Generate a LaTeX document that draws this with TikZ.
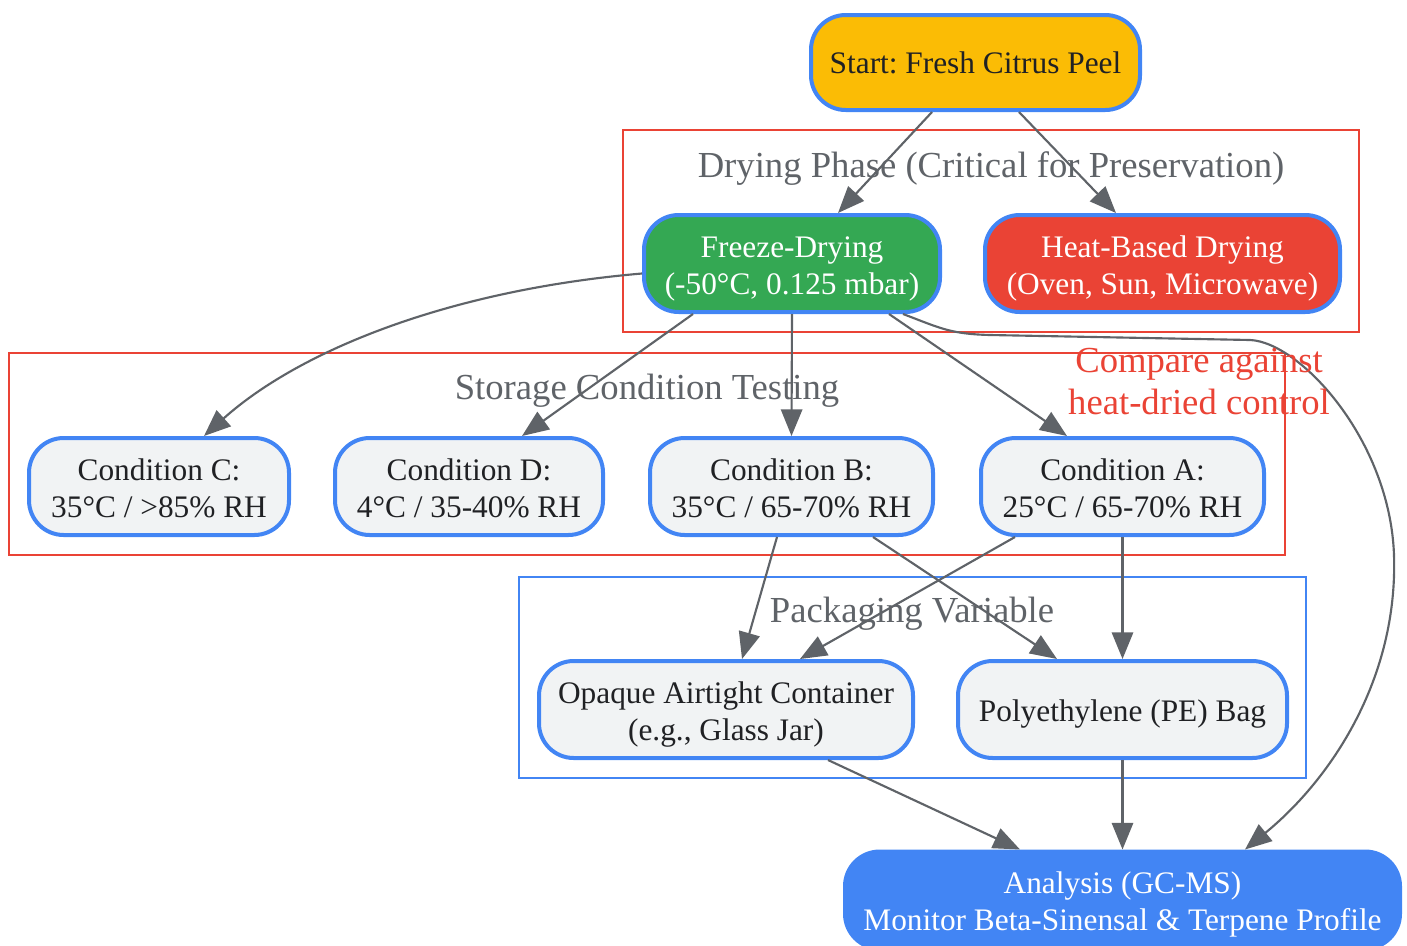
\documentclass[tikz,border=0pt]{standalone}
\usepackage{fontspec}
\setmainfont{Liberation Serif}
\usetikzlibrary{arrows.meta,calc}
\definecolor{gblue}{HTML}{4285F4}
\definecolor{gred}{HTML}{EA4335}
\definecolor{ggreen}{HTML}{34A853}
\definecolor{gyellow}{HTML}{FBBC05}
\definecolor{ggray}{HTML}{5F6368}
\definecolor{glight}{HTML}{F1F3F4}
\definecolor{gdark}{HTML}{202124}
\newcommand{\tallstrut}[1]{\rule{0pt}{#1pt}}
\frenchspacing
\begin{document}
\begin{tikzpicture}[x=0.75pt,y=-0.75pt,
  every node/.style={font=\fontsize{23.5}{27.75}\selectfont},
  box/.style={draw=gblue,line width=3pt,rounded corners=26pt,align=center,minimum height=72.75pt,inner sep=0pt},
  lightbox/.style={box,fill=glight,text=gdark},
  cluster/.style={line width=1.5pt},
  clabel/.style={text=ggray,inner sep=0pt,font=\fontsize{27.5}{31.5}\selectfont},
  edge/.style={draw=ggray,line width=1.6pt,-{Triangle[length=20pt,width=16pt]}}]
\useasboundingbox (0,0) rectangle (1407,946);
% clusters
\draw[cluster,draw=gred] (623,130) rectangle (1359,332);
\node[clabel] (lbldry) at (991,169) {Drying Phase (Critical for Preservation)};
\draw[cluster,draw=gred] (9,353) rectangle (1285,555);
\node[clabel] (lblstore) at (647,391) {Storage Condition Testing};
\draw[cluster,draw=gblue] (519,577) rectangle (1306,778);
\node[clabel] (lblpack) at (912,614) {Packaging Variable};
% nodes
\node[box,fill=gyellow,text=gdark,minimum width=246.75pt,minimum height=71.25pt] (start) at (975.5,62.5) {Start: Fresh Citrus Peel};
\node[box,fill=ggreen,text=white,minimum width=222pt] (freeze) at (792,263.5) {\tallstrut{23.5}Freeze-Drying\\(-50°C, 0.125 mbar)};
\node[box,fill=gred,text=white,minimum width=266.25pt] (heat) at (1162.5,263.5) {\tallstrut{23.5}Heat-Based Drying\\(Oven, Sun, Microwave)};
\node[lightbox,minimum width=195pt] (condC) at (159,486.5) {\tallstrut{19.5}Condition C:\\35°C / >85\% RH};
\node[lightbox,minimum width=201pt] (condD) at (469,486.5) {\tallstrut{19.5}Condition D:\\4°C / 35-40\% RH};
\node[lightbox,minimum width=212.25pt] (condB) at (791.5,486.5) {\tallstrut{19.5}Condition B:\\35°C / 65-70\% RH};
\node[lightbox,minimum width=212.25pt] (condA) at (1122.5,486.5) {\tallstrut{19.5}Condition A:\\25°C / 65-70\% RH};
\node[lightbox,minimum width=280.5pt] (opaque) at (726,709.5) {\tallstrut{23.5}Opaque Airtight Container\\(e.g., Glass Jar)};
\node[lightbox,minimum width=246.75pt] (pe) at (1122.5,709.5) {\tallstrut{23.8}Polyethylene (PE) Bag};
\node[box,fill=gblue,draw=gblue,text=white,minimum width=416.25pt] (analysis) at (1122.5,900) {\tallstrut{22.5}Analysis (GC-MS)\\Monitor Beta-Sinensal \& Terpene Profile};
% edges
\draw[edge] ($(start.south)+(-43.5,0)$) -- ($(freeze.north)+(46,0)$);
\draw[edge] ($(start.south)+(43.5,0)$) -- ($(heat.north)+(-46.5,0)$);
\draw[edge] ($(freeze.west)+(0,10)$) .. controls (450,290) and (300,350) .. ($(condC.north)+(45,0)$);
\draw[edge] ($(freeze.south)+(-99,0)$) -- ($(condD.north)+(53,0)$);
\draw[edge] (freeze.south) -- (condB.north);
\draw[edge] ($(freeze.south)+(97,0)$) -- ($(condA.north)+(-55.5,0)$);
\draw[edge] ($(freeze.south)+(111,0)$) .. controls (940,328) and (950,334) .. (990,335) -- (1250,340)
  .. controls (1300,342) and (1390,440) .. (1394,555)
  .. controls (1398,680) and (1330,780) .. ($(analysis.north)+(122.5,0)$);
\node[text=gred,align=center,inner sep=0pt,font=\fontsize{27.5}{31.5}\selectfont] (cmplbl) at (1199,382) {Compare against\\heat-dried control};
\draw[edge] ($(condB.south)+(-14.5,0)$) -- ($(opaque.north)+(16,0)$);
\draw[edge] ($(condB.south)+(81.5,0)$) -- ($(pe.north)+(-65.5,0)$);
\draw[edge] ($(condA.south)+(-107.5,0)$) -- ($(opaque.north)+(74,0)$);
\draw[edge] (condA.south) -- (pe.north);
\draw[edge] ($(opaque.south)+(102,0)$) -- ($(analysis.north)+(-102.5,0)$);
\draw[edge] (pe.south) -- (analysis.north);
\end{tikzpicture}
\end{document}
